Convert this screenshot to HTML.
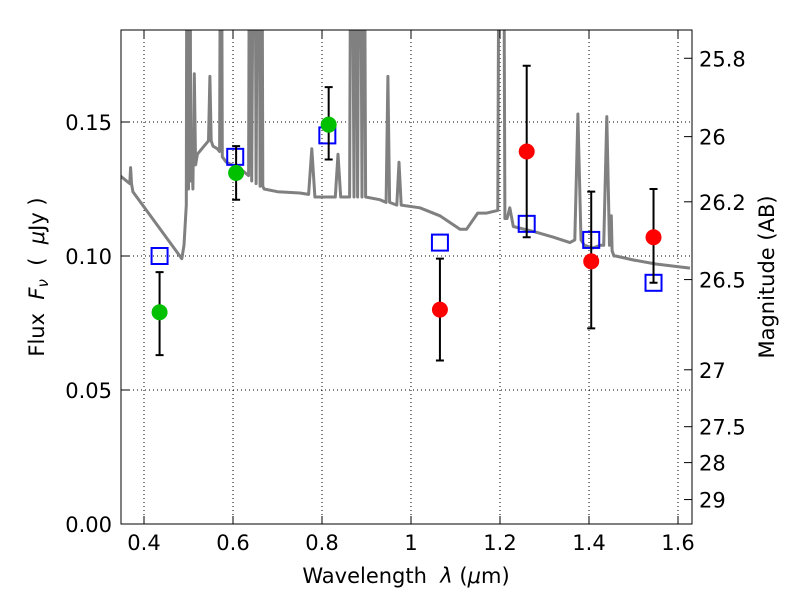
<!DOCTYPE html>
<html><head><meta charset="utf-8"><style>
body{margin:0;background:#fff}
svg text{font-family:"DejaVu Sans","Liberation Sans",sans-serif;fill:#000;white-space:pre}
</style></head><body>
<svg id="chart" width="800" height="600" viewBox="0 0 800 600" xmlns="http://www.w3.org/2000/svg">
<defs><clipPath id="clip"><rect x="121" y="30" width="571" height="494"/></clipPath></defs>
<rect x="0" y="0" width="800" height="600" fill="#fff"/>
<g id="grid"></g>
<g id="spec" clip-path="url(#clip)"></g>
<g id="marks"></g>
<rect x="121" y="30" width="571" height="494" fill="none" stroke="#000" stroke-width="1"/>
<g id="axes"></g>
<text x="406" y="583" font-size="21" text-anchor="middle">Wavelength  <tspan font-style="italic">λ</tspan> (<tspan font-style="italic">μ</tspan>m)</text>
<text transform="translate(44,277) rotate(-90)" font-size="21" text-anchor="middle">Flux  <tspan font-style="italic">F</tspan><tspan font-style="italic" font-size="15" dy="4">ν</tspan><tspan dy="-4">  (  </tspan><tspan font-style="italic">μ</tspan>Jy )</text>
<text transform="translate(774,277) rotate(-90)" font-size="21" text-anchor="middle">Magnitude (AB)</text>
</svg>
<script>
const xTicks=[0.4,0.6,0.8,1.0,1.2,1.4,1.6];
const xTickLabels=["0.4","0.6","0.8","1","1.2","1.4","1.6"];
const yTicks=[0,0.05,0.10,0.15];
const yTickLabels=["0.00","0.05","0.10","0.15"];
const magTicks=[25.8,26,26.2,26.5,27,27.5,28,29];
const magTickLabels=["25.8","26","26.2","26.5","27","27.5","28","29"];
const specWave=[0.346,0.368,0.370,0.372,0.375,0.485,0.49,0.495,0.497,0.500,0.503,0.505,0.508,0.510,0.513,0.516,0.52,0.535,0.545,0.548,0.551,0.555,0.565,0.570,0.573,0.576,0.585,0.598,0.62,0.635,0.638,0.642,0.648,0.652,0.657,0.661,0.664,0.667,0.670,0.70,0.75,0.770,0.777,0.784,0.818,0.830,0.836,0.842,0.862,0.866,0.872,0.876,0.880,0.885,0.890,0.894,0.898,0.93,0.944,0.948,0.952,0.968,0.973,0.978,1.02,1.065,1.11,1.125,1.15,1.17,1.195,1.199,1.202,1.207,1.211,1.216,1.222,1.230,1.279,1.32,1.357,1.368,1.375,1.382,1.39,1.409,1.425,1.433,1.440,1.446,1.450,1.452,1.456,1.460,1.50,1.55,1.627];
const specFlux=[0.130,0.127,0.133,0.127,0.124,0.099,0.104,0.119,0.300,0.125,0.300,0.128,0.136,0.125,0.168,0.134,0.138,0.141,0.143,0.167,0.143,0.141,0.140,0.139,0.300,0.137,0.135,0.134,0.132,0.130,0.300,0.128,0.300,0.127,0.300,0.126,0.300,0.126,0.125,0.124,0.1235,0.123,0.140,0.122,0.122,0.122,0.138,0.122,0.122,0.300,0.122,0.300,0.122,0.300,0.122,0.300,0.122,0.121,0.120,0.167,0.120,0.119,0.135,0.119,0.118,0.115,0.110,0.110,0.116,0.116,0.117,0.300,0.300,0.300,0.114,0.114,0.118,0.111,0.109,0.107,0.105,0.106,0.153,0.106,0.104,0.103,0.104,0.104,0.152,0.104,0.115,0.102,0.100,0.100,0.0985,0.097,0.0955];
const bands=[0.435,0.605,0.812,1.065,1.26,1.405,1.545];
const modelFlux=[0.100,0.137,0.145,0.105,0.112,0.106,0.090];
const obsWave=[0.435,0.607,0.815,1.065,1.26,1.405,1.545];
const obsFlux=[0.079,0.131,0.149,0.080,0.139,0.098,0.107];
const obsLow=[0.063,0.121,0.136,0.061,0.107,0.073,0.090];
const obsHigh=[0.094,0.141,0.163,0.099,0.171,0.124,0.125];
const obsColor=["#00c000","#00c000","#00c000","#ff0000","#ff0000","#ff0000","#ff0000"];

const NS="http://www.w3.org/2000/svg";
const X=v=>144+(v-0.4)*445;
const Y=f=>524-f*2680;
const M=m=>Y(Math.pow(10,(23.9-m)/2.5));
function mk(p,t,a){const e=document.createElementNS(NS,t);for(const k in a)e.setAttribute(k,a[k]);p.appendChild(e);return e;}
const grid=document.getElementById('grid'),axes=document.getElementById('axes'),spec=document.getElementById('spec'),marks=document.getElementById('marks');
xTicks.forEach((v,i)=>{
  const g=mk(grid,'line',{x1:X(v),x2:X(v),y1:30,y2:524,stroke:'#000','stroke-dasharray':'1,3','stroke-width':1});
  
  
  mk(axes,'line',{x1:X(v),x2:X(v),y1:524,y2:516,stroke:'#000'});
  mk(axes,'line',{x1:X(v),x2:X(v),y1:30,y2:38,stroke:'#000'});
  const t=mk(axes,'text',{x:X(v),y:550,'font-size':21,'text-anchor':'middle'});t.textContent=xTickLabels[i];
  
  
});
yTicks.forEach((v,i)=>{
  const g=mk(grid,'line',{x1:121,x2:692,y1:Y(v),y2:Y(v),stroke:'#000','stroke-dasharray':'1,3','stroke-width':1});
  
  
  mk(axes,'line',{x1:121,x2:129,y1:Y(v),y2:Y(v),stroke:'#000'});
  const t=mk(axes,'text',{x:112,y:Y(v)+8,'font-size':21,'text-anchor':'end'});t.textContent=yTickLabels[i];
  
  
});
magTicks.forEach((m,i)=>{
  mk(axes,'line',{x1:684,x2:692,y1:M(m),y2:M(m),stroke:'#000'});
  const t=mk(axes,'text',{x:699,y:M(m)+8,'font-size':21});t.textContent=magTickLabels[i];
  
  
});
const pts=specWave.map((w,i)=>X(w).toFixed(1)+','+Y(specFlux[i]).toFixed(1)).join(' ');
const pl=mk(spec,'polyline',{points:pts,fill:'none',stroke:'#808080','stroke-width':3,'stroke-linejoin':'round'});


bands.forEach((w,i)=>{
  const r=mk(marks,'rect',{x:X(w)-8,y:Y(modelFlux[i])-8,width:16,height:16,fill:'none',stroke:'#0000ff','stroke-width':2});
  
  
});
obsWave.forEach((w,i)=>{
  const x=X(w);
  const e=mk(marks,'path',{d:`M${x},${Y(obsLow[i])}V${Y(obsHigh[i])}M${x-4},${Y(obsLow[i])}h8M${x-4},${Y(obsHigh[i])}h8`,stroke:'#000','stroke-width':2,fill:'none'});
  
  
  const c=mk(marks,'circle',{cx:x,cy:Y(obsFlux[i]),r:8,fill:obsColor[i]});
  
  
});
</script>
</body></html>
